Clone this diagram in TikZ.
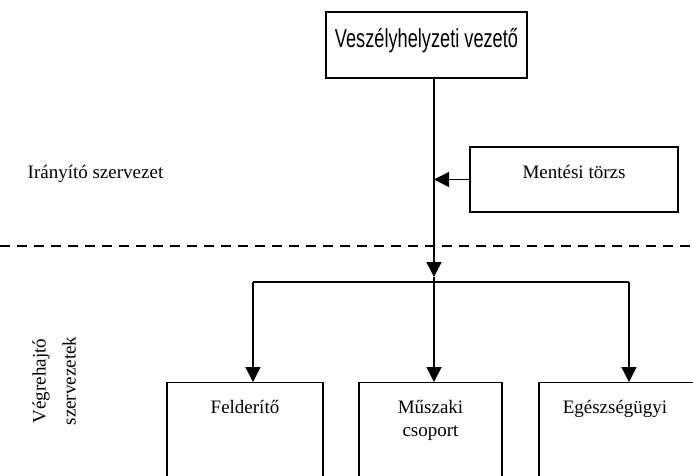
\documentclass[tikz,border=0pt]{standalone}
\usepackage{fontspec}
\setmainfont{Liberation Serif}
\newfontfamily\titlefont[FakeStretch=0.7]{Liberation Sans}
\usetikzlibrary{arrows.meta,positioning}

\begin{document}
\begin{tikzpicture} [x=1pt, y=-1pt, line width=1.4pt,
		>={Triangle[width=15pt,length=15pt]},
		box/.style={draw, rectangle, inner sep=0pt, minimum height=110pt, anchor=north},
		txt/.style={font=\fontsize{19}{23}\selectfont, align=center, inner sep=0pt}]

		\useasboundingbox (0,0) rectangle (693,475);

		% iranyito szint
		\node[draw, minimum width=201pt, minimum height=66pt] (vezeto) at (426.5,45) {};
		\node[font=\titlefont\fontsize{26}{30}\selectfont, anchor=base, inner sep=0pt] (vezetotxt) at (426.5,47) {Veszélyhelyzeti vezető};

		\node[draw, minimum width=208pt, minimum height=65pt] (torzs) at (574,179.5) {};
		\node[txt, anchor=base] (torzstxt) at (574,178) {Mentési törzs};

		\node[txt, anchor=base west] (iranyito) at (27,178) {Irányító szervezet};

		\draw [line width=1.2pt, dash pattern=on 10pt off 7pt] (0,246) -- (693,246);

		% vegrehajto szint
		\node[box, minimum width=156pt] (felderito) at (245,382) {};
		\node[box, minimum width=143pt] (muszaki) at (430.5,382) {};
		\node[box, minimum width=161pt] (egeszseg) at (619.5,382) {};

		\node[txt, anchor=base] (felderitotxt) at ([yshift=-31pt]felderito.north) {Felderítő};
		\node[txt, anchor=base] (muszakitxt) at ([yshift=-31pt]muszaki.north) {Műszaki};
		\node[txt, anchor=base] (csoporttxt) at ([yshift=-54pt]muszaki.north) {csoport};
		\node[txt, anchor=base] (egeszsegtxt) at ([xshift=-4.5pt, yshift=-31pt]egeszseg.north) {Egészségügyi};

		\node[txt, rotate=90, font=\fontsize{19}{30}\selectfont] (vegrehajto) at (54,381) {Végrehajtó\\szervezetek};

		% osszekotesek
		\coordinate (elagazas) at (434,282);
		\coordinate (nyil) at (434,277);
		\coordinate (bal) at (253,282);
		\coordinate (jobb) at (629,282);

		\draw [->] (vezeto.south -| elagazas) -- (nyil);
		\draw (nyil) -- (elagazas);
		\draw [->] (torzs.west) -- (torzs.west -| elagazas);

		\draw (bal) -- (jobb);
		\draw [->] (bal) -- (bal |- felderito.north);
		\draw [->] (elagazas) -- (elagazas |- muszaki.north);
		\draw [->] (jobb) -- (jobb |- egeszseg.north);
	\end{tikzpicture}
\end{document}
